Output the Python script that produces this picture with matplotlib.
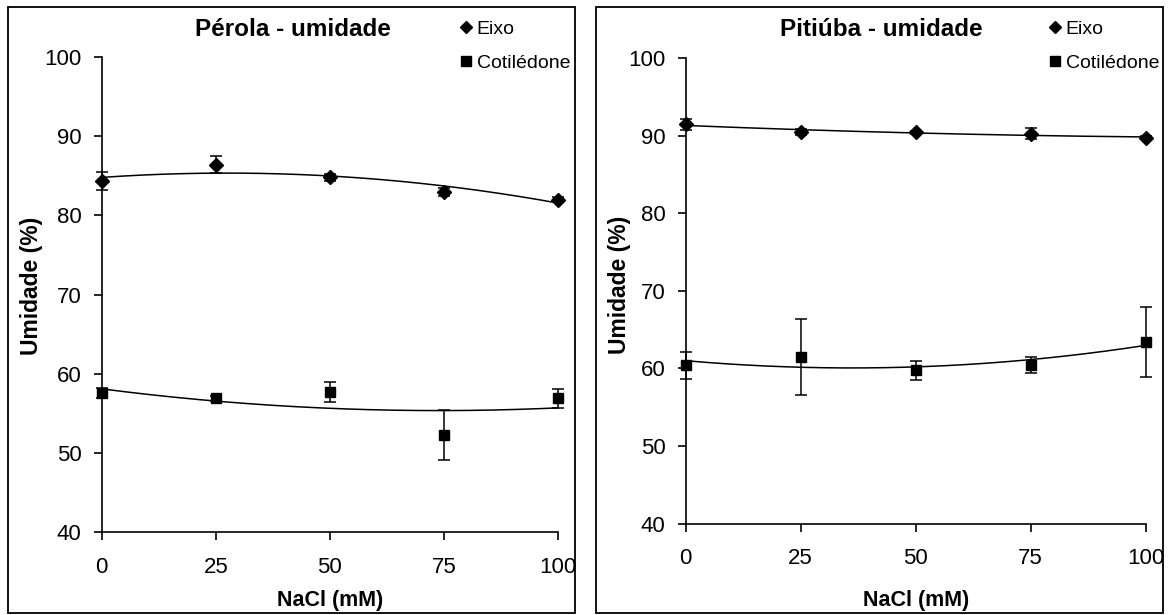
import matplotlib
matplotlib.use("Agg")
import matplotlib.pyplot as plt
import numpy as np
from matplotlib.lines import Line2D
from matplotlib.patches import Rectangle

plt.rcParams['font.family'] = ['Liberation Sans', 'DejaVu Sans']

# NaCl concentrations (mM)
nacl = [0, 25, 50, 75, 100]

# Pérola
perola_eixo = [84.3, 86.4, 84.8, 82.9, 82.0]
perola_eixo_err = [1.15, 1.1, 0.4, 0.5, 0.3]
perola_cot = [57.6, 56.9, 57.7, 52.3, 56.9]
perola_cot_err = [0.6, 0.3, 1.3, 3.2, 1.2]

# Pitiúba
pitiuba_eixo = [91.45, 90.45, 90.4, 90.25, 89.7]
pitiuba_eixo_err = [0.7, 0.4, 0.2, 0.7, 0.2]
pitiuba_cot = [60.4, 61.45, 59.75, 60.4, 63.4]
pitiuba_cot_err = [1.75, 4.9, 1.2, 1.05, 4.5]

titles = ["Pérola - umidade", "Pitiúba - umidade"]
legend_labels = ["Eixo", "Cotilédone"]
xticks = [0, 25, 50, 75, 100]
yticks = [40, 50, 60, 70, 80, 90, 100]

W, H = 1168, 615
fig = plt.figure(figsize=(W / 100, H / 100), dpi=100)


def fx(px):
    return px / W


def fy(py):
    return 1 - py / H


# axes boxes in pixels: (left, right, top, bottom)
panels = [
    dict(ax=(101.7, 558.0, 57.0, 532.3), box=(8, 575), title_x=292.5, leg_x=460, xlab_pad=9,
         eixo=perola_eixo, eixo_err=perola_eixo_err, cot=perola_cot, cot_err=perola_cot_err,
         ylab_x=-0.128, ylab_y=0.518),
    dict(ax=(685.7, 1145.7, 58.0, 523.5), box=(596, 1163), title_x=881, leg_x=1049, xlab_pad=15,
         eixo=pitiuba_eixo, eixo_err=pitiuba_eixo_err, cot=pitiuba_cot, cot_err=pitiuba_cot_err,
         ylab_x=-0.118, ylab_y=0.512),
]

for i, p in enumerate(panels):
    l, r, t, b = p['ax']
    ax = fig.add_axes([fx(l), fy(b), fx(r) - fx(l), fy(t) - fy(b)])

    # outer frame around each panel
    bx0, bx1 = p['box']
    fig.add_artist(Rectangle((fx(bx0), fy(613)), fx(bx1) - fx(bx0), fy(7) - fy(613),
                             transform=fig.transFigure, fill=False, edgecolor='black', linewidth=1.3))

    xs = np.linspace(0, 100, 300)
    for vals, errs, mk, ms in [(p['eixo'], p['eixo_err'], 'D', 6.8), (p['cot'], p['cot_err'], 's', 7.8)]:
        # 2nd order polynomial trendline
        coef = np.polyfit(nacl, vals, 2)
        ax.plot(xs, np.polyval(coef, xs), color='black', linewidth=1.1, clip_on=False)
        ax.errorbar(nacl, vals, yerr=errs, fmt='none', ecolor='black', elinewidth=1.1,
                    capsize=4.3, capthick=1.1, clip_on=False)
        ax.plot(nacl, vals, linestyle='none', marker=mk, markersize=ms, color='black',
                clip_on=False, zorder=5)

    ax.set_xlim(0, 100)
    ax.set_ylim(40, 100)
    ax.set_xticks(xticks)
    ax.set_yticks(yticks)
    ax.spines['top'].set_visible(False)
    ax.spines['right'].set_visible(False)
    for s in ['left', 'bottom']:
        ax.spines[s].set_linewidth(1.2)
    ax.tick_params(axis='both', direction='out', length=5.5, width=1.2, labelsize=16)
    ax.tick_params(axis='y', pad=9)
    ax.tick_params(axis='x', pad=12)
    ax.set_xlabel("NaCl (mM)", fontsize=15.5, fontweight='bold', labelpad=p['xlab_pad'])
    ax.set_ylabel("Umidade (%)", fontsize=16.5, fontweight='bold')
    ax.yaxis.set_label_coords(p['ylab_x'], p['ylab_y'])

    fig.text(fx(p['title_x']), fy(29), titles[i], fontsize=17.5, fontweight='bold',
             ha='center', va='center')

    leg_handles = [Line2D([], [], linestyle='none', marker='D', markersize=6.3, color='black'),
                   Line2D([], [], linestyle='none', marker='s', markersize=6.8, color='black')]
    fig.legend(leg_handles, legend_labels, loc='upper left',
               bbox_to_anchor=(fx(p['leg_x']), fy(20)), frameon=False, fontsize=14,
               handlelength=0.6, handletextpad=0.25, borderpad=0, borderaxespad=0,
               labelspacing=0.85)

fig.savefig("out.png", dpi=100)
